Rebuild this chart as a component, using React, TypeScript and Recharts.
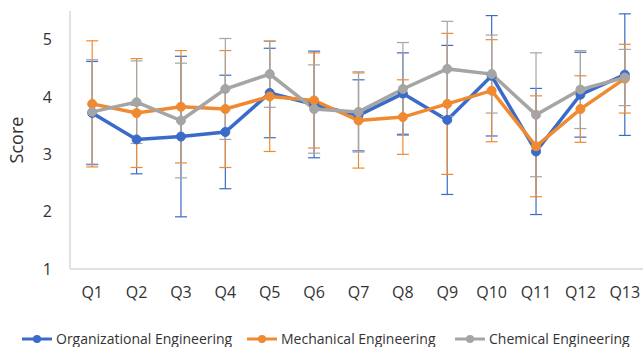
import React from 'react';
import { LineChart, Line, XAxis, YAxis, ErrorBar, Legend } from 'recharts';

const questions = ['Q1', 'Q2', 'Q3', 'Q4', 'Q5', 'Q6', 'Q7', 'Q8', 'Q9', 'Q10', 'Q11', 'Q12', 'Q13'];
const orgMeans = [3.72, 3.26, 3.31, 3.39, 4.07, 3.87, 3.68, 4.06, 3.6, 4.37, 3.05, 4.04, 4.39];
const orgErrors = [0.9, 0.6, 1.4, 0.99, 0.78, 0.93, 0.62, 0.71, 1.3, 1.05, 1.1, 0.74, 1.06];
const mechMeans = [3.88, 3.72, 3.83, 3.79, 4.01, 3.94, 3.59, 3.65, 3.88, 4.11, 3.14, 3.79, 4.32];
const mechErrors = [1.1, 0.95, 0.98, 1.02, 0.96, 0.83, 0.83, 0.65, 1.23, 0.89, 0.88, 0.58, 0.6];
const chemMeans = [3.74, 3.91, 3.59, 4.14, 4.4, 3.79, 3.74, 4.14, 4.49, 4.4, 3.69, 4.13, 4.34];
const chemErrors = [0.91, 0.72, 1.0, 0.88, 0.58, 0.77, 0.7, 0.81, 0.83, 0.68, 1.08, 0.68, 0.49];
const yTicks = [1, 2, 3, 4, 5];

const series = [
  { key: 'org', err: 'orgErr', name: 'Organizational Engineering', color: '#3A6BC8', left: 22 },
  { key: 'mech', err: 'mechErr', name: 'Mechanical Engineering', color: '#F08A30', left: 247 },
  { key: 'chem', err: 'chemErr', name: 'Chemical Engineering', color: '#A5A5A5', left: 455 },
];

const data = questions.map((q, i) => ({
  q,
  org: orgMeans[i],
  orgErr: orgErrors[i],
  mech: mechMeans[i],
  mechErr: mechErrors[i],
  chem: chemMeans[i],
  chemErr: chemErrors[i],
}));

const FONT = '"Open Sans", sans-serif';
const TEXT = '#333333';

const LegendRow = () => (
  <div style={{ position: 'relative', height: 38, fontFamily: FONT, fontSize: 14, color: TEXT }}>
    {series.map((s) => (
      <div key={s.key} style={{ position: 'absolute', left: s.left, top: 20, display: 'flex', alignItems: 'center', whiteSpace: 'nowrap' }}>
        <svg width={30} height={10} style={{ marginRight: 4 }}>
          <line x1={0} y1={5} x2={30} y2={5} stroke={s.color} strokeWidth={3} />
          <circle cx={15} cy={5} r={4} fill={s.color} />
        </svg>
        <span>{s.name}</span>
      </div>
    ))}
  </div>
);

export default function App() {
  return (
    <div style={{ position: 'absolute', left: 0, top: 0 }}>
      <LineChart width={660} height={347} data={data} margin={{ top: 11, right: 13, left: 0, bottom: 0 }}>
        <XAxis
          dataKey="q"
          scale="band"
          axisLine={{ stroke: '#D9D9D9', strokeWidth: 1.5 }}
          tickLine={false}
          height={40}
          tick={{ fill: TEXT, fontSize: 16, fontFamily: FONT }}
          dy={10}
        />
        <XAxis xAxisId="top" dataKey="q" scale="band" orientation="top" height={0} tick={false} tickLine={false} axisLine={{ stroke: '#D9D9D9', strokeWidth: 1.5 }} />
        <YAxis
          domain={[1, 5.5]}
          ticks={yTicks}
          width={70}
          axisLine={{ stroke: '#D9D9D9', strokeWidth: 1.5 }}
          tickLine={false}
          tick={{ fill: TEXT, fontSize: 16, fontFamily: FONT }}
          dx={-10}
          label={{ value: 'Score', angle: -90, position: 'insideLeft', dx: 12, style: { fill: TEXT, fontSize: 18, fontFamily: FONT, textAnchor: 'middle' } }}
        />
        <Legend verticalAlign="bottom" content={() => <LegendRow />} wrapperStyle={{ left: 0, width: 660 }} />
        {series.map((s) => (
          <Line
            key={s.key}
            dataKey={s.key}
            name={s.name}
            stroke={s.color}
            strokeWidth={3.5}
            dot={{ r: 4.5, fill: s.color, stroke: s.color, strokeWidth: 1 }}
            activeDot={false}
            isAnimationActive={false}
          >
            <ErrorBar dataKey={s.err} width={6} stroke={s.color} strokeWidth={1.2} direction="y" />
          </Line>
        ))}
      </LineChart>
    </div>
  );
}
